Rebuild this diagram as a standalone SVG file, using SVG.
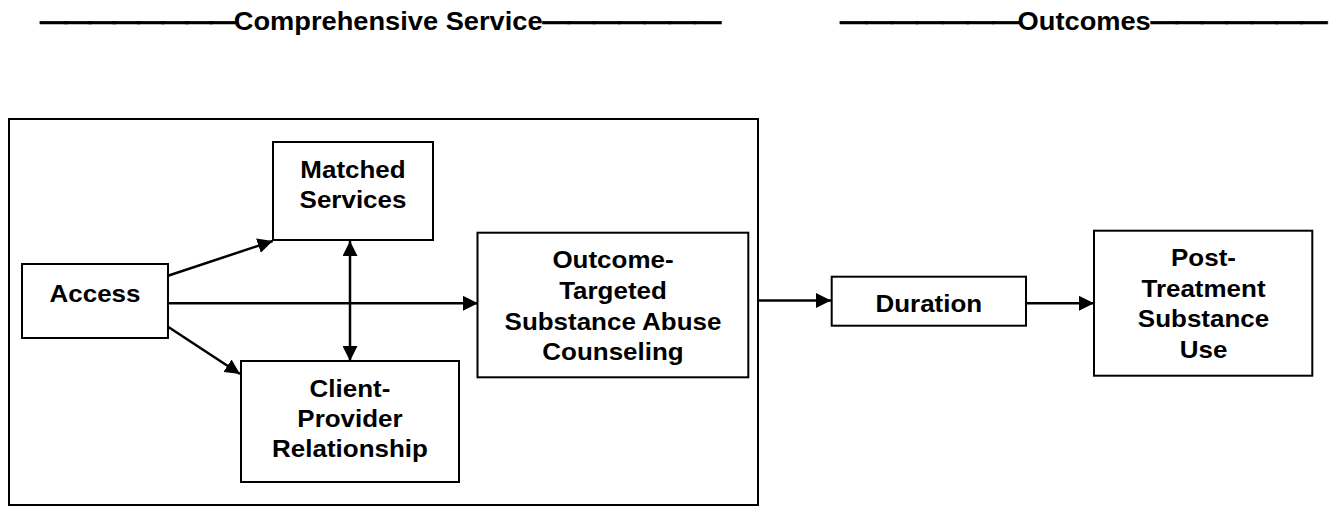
<svg xmlns="http://www.w3.org/2000/svg" width="1338" height="506" viewBox="0 0 1338 506">
<style>
.box{fill:#fff;stroke:#000;stroke-width:2}
.frame{fill:none;stroke:#000;stroke-width:2}
.lbl{font-family:"Liberation Sans",Arial,sans-serif;font-weight:bold;font-size:24.5px;fill:#000;text-anchor:middle}
.hdr{font-family:"Liberation Sans",Arial,sans-serif;font-weight:bold;font-size:25px;fill:#000}
.dash{stroke:#000;stroke-width:0.7}
.conn{fill:none;stroke:#000;stroke-width:2.5}
</style>
<defs>
<marker id="ah" markerUnits="userSpaceOnUse" markerWidth="16" markerHeight="15" refX="15" refY="7.5" orient="auto-start-reverse">
<path d="M0,0 L15,7.5 L0,15 Z" fill="#000"/>
</marker>
</defs>
<rect width="1338" height="506" fill="#fff"/>
<g id="headers">
<text class="hdr" transform="translate(40,29.5) scale(1.09,1)"><tspan class="dash" letter-spacing="-2.75">————————</tspan><tspan>Comprehensive Service</tspan><tspan class="dash" letter-spacing="-1.8">———————</tspan></text>
<text class="hdr" transform="translate(840,29.5) scale(1.09,1)"><tspan class="dash" letter-spacing="-1.7">———————</tspan><tspan>Outcomes</tspan><tspan class="dash" letter-spacing="-2.1">———————</tspan></text>
</g>
<g id="comprehensive-frame">
<rect class="frame" x="9" y="119" width="749" height="386"/>
</g>
<g id="connectors">
<line class="conn" x1="168" y1="275.7" x2="272.7" y2="241" marker-end="url(#ah)"/>
<line class="conn" x1="165" y1="303.3" x2="478" y2="303.3" marker-end="url(#ah)"/>
<line class="conn" x1="168" y1="326.7" x2="240" y2="374" marker-end="url(#ah)"/>
<line class="conn" x1="350" y1="241" x2="350" y2="361" marker-start="url(#ah)" marker-end="url(#ah)"/>
<line class="conn" x1="758" y1="300.5" x2="831" y2="300.5" marker-end="url(#ah)"/>
<line class="conn" x1="1022" y1="303.3" x2="1094" y2="303.3" marker-end="url(#ah)"/>
</g>
<g id="access">
<rect class="box" x="22" y="264" width="146" height="74"/>
<text class="lbl" transform="translate(95,0) scale(1.06,1)" x="0" y="301.7">Access</text>
</g>
<g id="matched-services">
<rect class="box" x="273" y="142" width="160" height="98"/>
<text class="lbl" transform="translate(353,0) scale(1.06,1)"><tspan x="0" y="177.7">Matched</tspan><tspan x="0" y="208.3">Services</tspan></text>
</g>
<g id="client-provider">
<rect class="box" x="241" y="361" width="218" height="121"/>
<text class="lbl" transform="translate(350,0) scale(1.06,1)"><tspan x="0" y="397">Client-</tspan><tspan x="0" y="427.5">Provider</tspan><tspan x="0" y="457.5">Relationship</tspan></text>
</g>
<g id="outcome-targeted">
<rect class="box" x="477.5" y="232.7" width="270.8" height="144.6"/>
<text class="lbl" transform="translate(613,0) scale(1.06,1)"><tspan x="0" y="267.7">Outcome-</tspan><tspan x="0" y="299">Targeted</tspan><tspan x="0" y="330">Substance Abuse</tspan><tspan x="0" y="360.5">Counseling</tspan></text>
</g>
<g id="duration">
<rect class="box" x="831.7" y="276.7" width="194.3" height="49"/>
<text class="lbl" transform="translate(928.8,0) scale(1.06,1)" x="0" y="311.7">Duration</text>
</g>
<g id="post-treatment">
<rect class="box" x="1094" y="230.7" width="218.3" height="145"/>
<text class="lbl" transform="translate(1203.5,0) scale(1.06,1)"><tspan x="0" y="265.7">Post-</tspan><tspan x="0" y="296.7">Treatment</tspan><tspan x="0" y="327.3">Substance</tspan><tspan x="0" y="357.7">Use</tspan></text>
</g>
</svg>
